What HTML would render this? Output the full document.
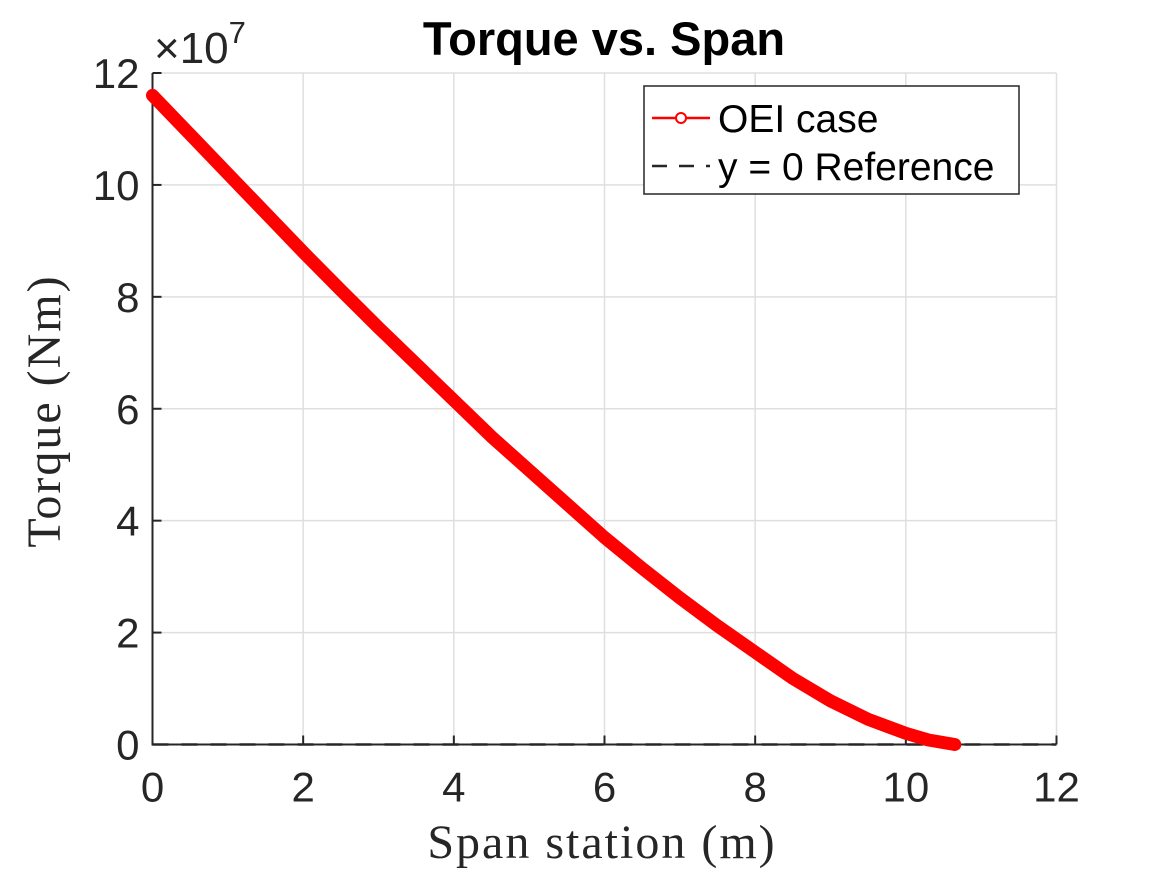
<!DOCTYPE html>
<html><head><meta charset="utf-8"><style>
body{margin:0;background:#fff}
svg{display:block}
.tk{font-family:"Liberation Sans",sans-serif;font-size:42px;fill:#262626}
</style></head><body>
<svg id="c" width="1167" height="875" xmlns="http://www.w3.org/2000/svg"></svg>
<script>
const xData=[0,0.5,1,1.5,2,2.5,3,3.5,4,4.5,5,5.5,6,6.5,7,7.5,8,8.5,9,9.5,10,10.3,10.65];
const yData=[11.6,10.9,10.2,9.5,8.8,8.12,7.45,6.8,6.15,5.5,4.9,4.3,3.7,3.15,2.62,2.12,1.65,1.18,0.78,0.45,0.2,0.08,0];
const xTicks=[0,2,4,6,8,10,12];
const yTicks=[0,2,4,6,8,10,12];
const L=152.5,R=1056.5,T=73,B=744.5;
const sx=v=>L+(v/12)*(R-L), sy=v=>B-(v/12)*(B-T);
const svg=document.getElementById('c');const NS='http://www.w3.org/2000/svg';
function mk(t,a,p){const e=document.createElementNS(NS,t);for(const k in a)e.setAttribute(k,a[k]);(p||svg).appendChild(e);return e;}
const g=mk('g',{});


xTicks.forEach(v=>{mk('line',{x1:sx(v),x2:sx(v),y1:T,y2:B,stroke:'#dfdfdf','stroke-width':1.5},g);});
yTicks.forEach(v=>{mk('line',{x1:L,x2:R,y1:sy(v),y2:sy(v),stroke:'#dfdfdf','stroke-width':1.5},g);});
const ref=mk('line',{x1:L,x2:R,y1:sy(0),y2:sy(0),stroke:'#262626','stroke-width':2.5,'stroke-dasharray':'16,13'});


const ax=mk('path',{d:`M${L},${T}V${B}H${R}`,fill:'none',stroke:'#262626','stroke-width':2});


xTicks.forEach(v=>{mk('line',{x1:sx(v),x2:sx(v),y1:B,y2:B-9,stroke:'#262626','stroke-width':2});
 const t=mk('text',{x:sx(v),y:B+57,'text-anchor':'middle',class:'tk'});t.textContent=v;
 
 });
yTicks.forEach(v=>{mk('line',{x1:L,x2:L+9,y1:sy(v),y2:sy(v),stroke:'#262626','stroke-width':2});
 const t=mk('text',{x:L-13,y:sy(v)+15,'text-anchor':'end',class:'tk'});t.textContent=v;
 
 });
const pts=xData.map((x,i)=>sx(x)+','+sy(yData[i])).join(' ');
const s=mk('polyline',{points:pts,fill:'none',stroke:'#ff0000','stroke-width':13,'stroke-linejoin':'round','stroke-linecap':'round'});


xData.forEach((x,i)=>{const c=mk('circle',{cx:sx(x),cy:sy(yData[i]),r:5,fill:'none',stroke:'#ff0000','stroke-width':2});
 
 });
</script>
<svg style="position:absolute;left:0;top:0" width="1167" height="875" xmlns="http://www.w3.org/2000/svg">
<text x="604" y="55" text-anchor="middle" font-family="Liberation Sans,sans-serif" font-weight="bold" font-size="47" fill="#000">Torque vs. Span</text>
<text x="154" y="63" font-family="Liberation Sans,sans-serif" font-size="44" fill="#262626">×10<tspan font-size="31" dy="-20">7</tspan></text>
<text x="602" y="858" text-anchor="middle" font-family="Liberation Serif,serif" font-size="48" letter-spacing="2" fill="#262626">Span station (m)</text>
<text transform="translate(60,411) rotate(-90)" text-anchor="middle" font-family="Liberation Serif,serif" font-size="48" letter-spacing="2" fill="#262626">Torque (Nm)</text>
<g>
<rect x="644" y="86" width="375" height="108" fill="#fff" stroke="#262626" stroke-width="1.5"/>
<line x1="652" y1="118" x2="710" y2="118" stroke="#ff0000" stroke-width="2.5"/>
<circle cx="681" cy="118" r="5" fill="#fff" stroke="#ff0000" stroke-width="2"/>
<text x="718" y="132" font-family="Liberation Sans,sans-serif" font-size="39" fill="#000">OEI case</text>
<line x1="652" y1="166" x2="710" y2="166" stroke="#262626" stroke-width="2.5" stroke-dasharray="15,12"/>
<text x="718" y="180" font-family="Liberation Sans,sans-serif" font-size="39" fill="#000">y = 0 Reference</text>
</g>
</svg>
</body></html>
